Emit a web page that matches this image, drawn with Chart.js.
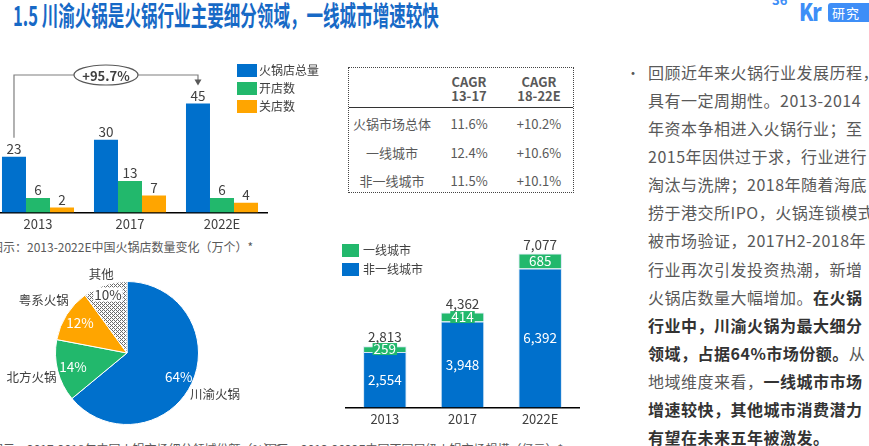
<!DOCTYPE html>
<html>
<head>
<meta charset="utf-8">
<script src="https://cdn.jsdelivr.net/npm/chart.js@4"></script>
<style>
  body { margin: 0; background: #fff; }
  #page { position: relative; width: 869px; height: 446px; overflow: hidden; background: #fff;
    font-family: "Noto Sans CJK SC", "Noto Sans", sans-serif; color: #595959; }
  .abs { position: absolute; white-space: nowrap; }
  canvas { position: absolute; }
  .sw { position: absolute; }
  .lg { position: absolute; font-size: 12px; line-height: 14px; color: #404040; white-space: nowrap; }
  .cap { position: absolute; font-size: 12px; line-height: 16px; color: #595959; white-space: nowrap; }
  #body p { margin: 0; height: 28.08px; line-height: 28.08px; font-size: 16px; letter-spacing: 0.5px; white-space: nowrap; }
  #body b { color: #333; }
  .tc { position: absolute; text-align: center; font-size: 13px; line-height: 14px; color: #595959; }
</style>
</head>
<body>
<div id="page">
  <div class="abs" style="left:13px;top:-1px;font-size:27px;line-height:32px;font-weight:bold;color:#1769c6;transform:scaleX(0.613);transform-origin:0 0;">1.5 川渝火锅是火锅行业主要细分领域，一线城市增速较快</div>
  <div class="abs" style="left:772px;top:-10px;font-size:13px;font-weight:bold;color:#3e8ef7;">36</div>
  <div class="abs" style="left:799px;top:-3px;font-size:24px;line-height:28px;font-weight:900;color:#3e8ef7;letter-spacing:-1.5px;transform:scaleX(0.85);transform-origin:0 0;">Kr</div>
  <div class="abs" style="left:828px;top:3px;width:44px;height:19px;background:#3e8ef7;border-radius:3px;color:#fff;font-size:13px;line-height:19px;text-indent:4px;letter-spacing:1px;">研究</div>

  <!-- chart 1 -->
  <canvas id="storesChart" style="left:-8px;top:60px;width:276px;height:176px;"></canvas>
  <div class="sw" style="left:237px;top:64px;width:20px;height:13px;background:#0070cc;"></div>
  <div class="lg" style="left:259px;top:63px;">火锅店总量</div>
  <div class="sw" style="left:237px;top:82px;width:20px;height:13px;background:#22b86c;"></div>
  <div class="lg" style="left:259px;top:81px;">开店数</div>
  <div class="sw" style="left:237px;top:100px;width:20px;height:13px;background:#ffa500;"></div>
  <div class="lg" style="left:259px;top:99px;">关店数</div>
  <div class="cap" style="left:-9px;top:239px;">图示：2013-2022E中国火锅店数量变化（万个）*</div>

  <!-- table -->
  <div id="cagrTable" style="position:absolute;left:348px;top:67px;width:224px;height:124px;border:1px dotted #444;"></div>

  <!-- pie -->
  <canvas id="shareChart" style="left:0;top:258px;width:260px;height:180px;"></canvas>
  <div class="cap" style="left:-9px;top:441px;">图示：2017-2018年中国火锅市场细分领域份额（%）*</div>

  <!-- stacked -->
  <canvas id="marketChart" style="left:340px;top:228px;width:245px;height:203px;"></canvas>
  <div class="sw" style="left:342px;top:244px;width:17px;height:13px;background:#22b86c;"></div>
  <div class="lg" style="left:363px;top:243px;">一线城市</div>
  <div class="sw" style="left:342px;top:263px;width:17px;height:13px;background:#0070cc;"></div>
  <div class="lg" style="left:363px;top:262px;">非一线城市</div>
  <div class="cap" style="left:265px;top:441px;">图示：2013-2022E中国不同层级火锅市场规模（亿元）*</div>

  <!-- text -->
  <div class="abs" style="left:626px;top:58px;font-size:14px;line-height:28px;color:#595959;">•</div>
  <div id="body" class="abs" style="left:648px;top:58px;color:#595959;">
    <p>回顾近年来火锅行业发展历程，</p>
    <p>具有一定周期性。2013-2014</p>
    <p>年资本争相进入火锅行业；至</p>
    <p>2015年因供过于求，行业进行</p>
    <p>淘汰与洗牌；2018年随着海底</p>
    <p>捞于港交所IPO，火锅连锁模式</p>
    <p>被市场验证，2017H2-2018年</p>
    <p>行业再次引发投资热潮，新增</p>
    <p>火锅店数量大幅增加。<b>在火锅</b></p>
    <p><b>行业中，川渝火锅为最大细分</b></p>
    <p><b>领域，占据64%市场份额。</b>从</p>
    <p>地域维度来看，<b>一线城市市场</b></p>
    <p><b>增速较快，其他城市消费潜力</b></p>
    <p><b>有望在未来五年被激发。</b></p>
  </div>
</div>

<script>
// store counts (万个)
const storeYears = ['2013', '2017', '2022E'];
const totalStores = [23, 30, 45];
const openedStores = [6, 13, 6];
const closedStores = [2, 7, 4];
const growthLabel = '+95.7%';

// CAGR table
const cagrRows = ['火锅市场总体', '一线城市', '非一线城市'];
const cagr1317 = ['11.6%', '12.4%', '11.5%'];
const cagr1822 = ['+10.2%', '+10.6%', '+10.1%'];

// segment shares (%)
const segmentNames = ['川渝火锅', '北方火锅', '粤系火锅', '其他'];
const segmentShares = [64, 14, 12, 10];

// market size (亿元)
const marketYears = ['2013', '2017', '2022E'];
const tier1Market = [259, 414, 685];
const otherMarket = [2554, 3948, 6392];

const BLUE = '#0070cc';
const GREEN = '#22b86c';
const ORANGE = '#ffa500';
const FONT = '"Noto Sans CJK SC", "Noto Sans", sans-serif';

Chart.defaults.font.family = FONT;
Chart.defaults.color = '#404040';
Chart.defaults.animation = false;
Chart.defaults.plugins.legend.display = false;
Chart.defaults.plugins.tooltip.enabled = false;

// table
const tbl = document.getElementById('cagrTable');
function cell(text, left, top, width, bold) {
    const d = document.createElement('div');
    d.className = 'tc';
    d.style.left = left + 'px';
    d.style.top = top + 'px';
    d.style.width = width + 'px';
    if (bold) { d.style.fontWeight = 'bold'; }
    d.innerHTML = text;
    tbl.appendChild(d);
}
cell('CAGR<br>13-17', 87, 7, 66, true);
cell('CAGR<br>18-22E', 153, 7, 74, true);
const rule = document.createElement('div');
rule.style.cssText = 'position:absolute;left:0;top:39px;width:224px;height:0;border-top:1.5px solid #333;';
tbl.appendChild(rule);
cagrRows.forEach((name, i) => {
    const top = 49 + i * 28.5;
    cell(name, -2, top, 90, false);
    cell(cagr1317[i], 87, top, 66, false);
    cell(cagr1822[i], 153, top, 74, false);
});

// chart 1: store counts
const storeLabels = {
    id: 'storeLabels',
    afterDatasetsDraw(chart) {
        const ctx = chart.ctx;
        ctx.save();
        ctx.font = '13.5px ' + FONT;
        ctx.fillStyle = '#404040';
        ctx.textAlign = 'center';
        ctx.textBaseline = 'middle';
        chart.data.datasets.forEach((ds, d) => {
            chart.getDatasetMeta(d).data.forEach((bar, i) => {
                ctx.fillText(ds.data[i], bar.x, bar.y - 8);
            });
        });
        // growth bracket
        const bars = chart.getDatasetMeta(0).data;
        const a = bars[0], b = bars[bars.length - 1];
        const yTop = 15;
        ctx.strokeStyle = '#7f7f7f';
        ctx.lineWidth = 1.2;
        ctx.beginPath();
        ctx.moveTo(a.x, a.y - 19);
        ctx.lineTo(a.x, yTop);
        ctx.lineTo(b.x, yTop);
        ctx.lineTo(b.x, b.y - 23);
        ctx.stroke();
        ctx.fillStyle = '#595959';
        ctx.beginPath();
        ctx.moveTo(b.x - 3.5, b.y - 24);
        ctx.lineTo(b.x + 3.5, b.y - 24);
        ctx.lineTo(b.x, b.y - 18);
        ctx.closePath();
        ctx.fill();
        const cx = (a.x + b.x) / 2;
        ctx.beginPath();
        ctx.ellipse(cx, yTop, 32, 10, 0, 0, Math.PI * 2);
        ctx.fillStyle = '#fff';
        ctx.fill();
        ctx.strokeStyle = '#595959';
        ctx.stroke();
        ctx.fillStyle = '#404040';
        ctx.font = 'bold 13px ' + FONT;
        ctx.fillText(growthLabel, cx, yTop + 1);
        ctx.restore();
    }
};

new Chart(document.getElementById('storesChart'), {
    type: 'bar',
    data: {
        labels: storeYears,
        datasets: [
            { label: '火锅店总量', data: totalStores, backgroundColor: BLUE },
            { label: '开店数', data: openedStores, backgroundColor: GREEN },
            { label: '关店数', data: closedStores, backgroundColor: ORANGE }
        ]
    },
    plugins: [storeLabels],
    options: {
        responsive: false,
        layout: { padding: 0 },
        datasets: { bar: { categoryPercentage: 0.783, barPercentage: 1 } },
        scales: {
            x: {
                grid: { display: false, drawTicks: false },
                border: { display: true, color: '#000', width: 1.5 },
                ticks: { padding: 4, color: '#404040', font: { size: 13 } }
            },
            y: { display: false, min: 0, max: 63 }
        }
    }
});

// chart 2: segment pie
function hatch() {
    const c = document.createElement('canvas');
    c.width = 4;
    c.height = 4;
    const g = c.getContext('2d');
    g.fillStyle = '#fff';
    g.fillRect(0, 0, 4, 4);
    g.fillStyle = '#6a6a6a';
    [[0, 0], [1, 1], [2, 2], [3, 3], [2, 0], [0, 2]].forEach(p => g.fillRect(p[0], p[1], 1, 1));
    return g.createPattern(c, 'repeat');
}

const pieLabels = {
    id: 'pieLabels',
    afterDatasetsDraw(chart) {
        const ctx = chart.ctx;
        const inner = [0.8, 0.78, 0.78, 0.86];
        const outer = [1.36, 1.38, 1.38, 1.16];
        ctx.save();
        ctx.textAlign = 'center';
        ctx.textBaseline = 'middle';
        chart.getDatasetMeta(0).data.forEach((arc, i) => {
            const p = arc.getProps(['x', 'y', 'startAngle', 'endAngle', 'outerRadius']);
            const mid = (p.startAngle + p.endAngle) / 2;
            const r = p.outerRadius;
            const tx = p.x + Math.cos(mid) * r * inner[i];
            const ty = p.y + Math.sin(mid) * r * inner[i];
            const txt = segmentShares[i] + '%';
            ctx.font = '13.5px ' + FONT;
            if (i === 3) {
                const w = ctx.measureText(txt).width + 2;
                ctx.fillStyle = '#fff';
                ctx.fillRect(tx - w / 2, ty - 7, w, 14);
                ctx.fillStyle = '#404040';
            } else {
                ctx.fillStyle = '#fff';
            }
            ctx.fillText(txt, tx, ty);
            ctx.font = '12.5px ' + FONT;
            ctx.fillStyle = '#404040';
            ctx.fillText(segmentNames[i], p.x + Math.cos(mid) * r * outer[i], p.y + Math.sin(mid) * r * outer[i]);
        });
        ctx.restore();
    }
};

new Chart(document.getElementById('shareChart'), {
    type: 'pie',
    data: {
        labels: segmentNames,
        datasets: [{
            data: segmentShares,
            backgroundColor: [BLUE, GREEN, ORANGE, hatch()],
            borderColor: '#fff',
            borderWidth: 1
        }]
    },
    plugins: [pieLabels],
    options: {
        responsive: false,
        layout: { padding: { left: 55, right: 61, top: 23, bottom: 13 } }
    }
});

// chart 3: market size
const fmt = n => n.toLocaleString('en-US');
const marketLabels = {
    id: 'marketLabels',
    afterDatasetsDraw(chart) {
        const ctx = chart.ctx;
        ctx.save();
        ctx.font = '13.5px ' + FONT;
        ctx.textAlign = 'center';
        ctx.textBaseline = 'middle';
        chart.getDatasetMeta(0).data.forEach((bar, i) => {
            ctx.fillStyle = '#fff';
            ctx.fillText(fmt(otherMarket[i]), bar.x, (bar.y + bar.base) / 2);
        });
        chart.getDatasetMeta(1).data.forEach((bar, i) => {
            const mid = (bar.y + bar.base) / 2;
            const txt = fmt(tier1Market[i]);
            const w = ctx.measureText(txt).width + 2;
            ctx.fillStyle = GREEN;
            ctx.fillRect(bar.x - w / 2, mid - 6, w, 12);
            ctx.fillStyle = '#fff';
            ctx.fillText(txt, bar.x, mid);
            ctx.fillStyle = '#404040';
            ctx.fillText(fmt(tier1Market[i] + otherMarket[i]), bar.x, bar.y - 9);
        });
        ctx.restore();
    }
};

new Chart(document.getElementById('marketChart'), {
    type: 'bar',
    data: {
        labels: marketYears,
        datasets: [
            { label: '非一线城市', data: otherMarket, backgroundColor: BLUE, borderColor: '#d6e6f5', borderWidth: 1 },
            { label: '一线城市', data: tier1Market, backgroundColor: GREEN, borderColor: '#d6e6f5', borderWidth: 1 }
        ]
    },
    plugins: [marketLabels],
    options: {
        responsive: false,
        layout: { padding: { left: 6, right: 6, top: 12, bottom: 0 } },
        datasets: { bar: { categoryPercentage: 0.56, barPercentage: 1 } },
        scales: {
            x: {
                stacked: true,
                grid: { display: false, drawTicks: false },
                border: { display: true, color: '#000', width: 1.5 },
                ticks: { padding: 4, color: '#404040', font: { size: 13 } }
            },
            y: { stacked: true, display: false, min: 0, max: 7700 }
        }
    }
});
</script>
</body>
</html>
